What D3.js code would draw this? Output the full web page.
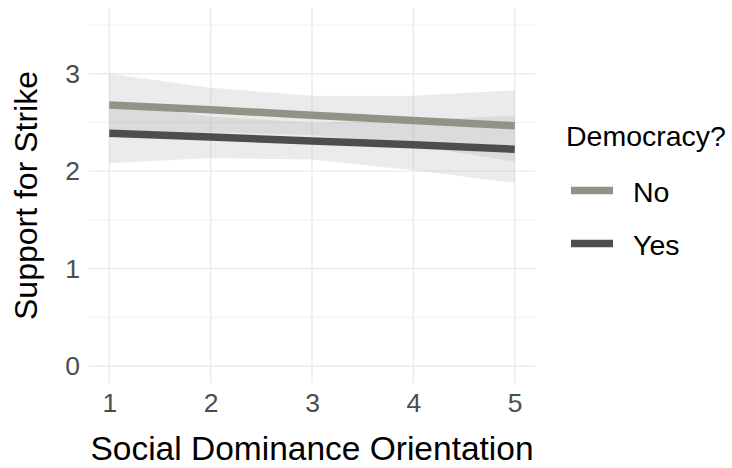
<!DOCTYPE html>
<html>
<head>
<meta charset="utf-8">
<script src="https://cdn.jsdelivr.net/npm/d3@7"></script>
<style>
  body { margin: 0; background: #fff; }
  text { font-family: "Liberation Sans", Arial, sans-serif; }
</style>
</head>
<body>
<svg id="chart" width="732" height="468" viewBox="0 0 732 468"></svg>
<script>
// predicted support at each SDO value
const sdo = [1, 2, 3, 4, 5];
const groups = ["No", "Yes"];
const fitNo = [2.68, 2.63, 2.575, 2.52, 2.465];
const lowNo = [2.36, 2.40, 2.37, 2.26, 2.10];
const highNo = [3.00, 2.855, 2.775, 2.775, 2.83];
const fitYes = [2.39, 2.35, 2.31, 2.27, 2.225];
const lowYes = [2.08, 2.135, 2.12, 2.01, 1.88];
const highYes = [2.70, 2.56, 2.50, 2.52, 2.57];
const xTicks = [1, 2, 3, 4, 5];
const yTicks = [0, 1, 2, 3];
const yMinor = [0.5, 1.5, 2.5, 3.5];

const series = [
    { name: "No", fit: fitNo, low: lowNo, high: highNo, color: "#8f9485" },
    { name: "Yes", fit: fitYes, low: lowYes, high: highYes, color: "#4d4d4d" }
];

const svg = d3.select("#chart");
const panel = { left: 89, right: 535, top: 8, bottom: 383 };

const x = d3.scaleLinear()
    .domain([0.8, 5.2])
    .range([panel.left, panel.right]);
const y = d3.scaleLinear()
    .domain([-0.175, 3.675])
    .range([panel.bottom, panel.top]);

const grid = svg.append("g");

// minor grid first, then major
grid.selectAll(".minor-y")
    .data(yMinor)
    .enter()
    .append("line")
    .attr("x1", panel.left)
    .attr("x2", panel.right)
    .attr("y1", d => y(d))
    .attr("y2", d => y(d))
    .style("stroke", "#f2f2f2")
    .style("stroke-width", 1);

grid.selectAll(".major-y")
    .data(yTicks)
    .enter()
    .append("line")
    .attr("x1", panel.left)
    .attr("x2", panel.right)
    .attr("y1", d => y(d))
    .attr("y2", d => y(d))
    .style("stroke", "#ebebeb")
    .style("stroke-width", 1.4);

grid.selectAll(".major-x")
    .data(xTicks)
    .enter()
    .append("line")
    .attr("x1", d => x(d))
    .attr("x2", d => x(d))
    .attr("y1", panel.top)
    .attr("y2", panel.bottom)
    .style("stroke", "#ebebeb")
    .style("stroke-width", 1.4);

// confidence ribbons
const area = d3.area()
    .x((d, i) => x(sdo[i]))
    .y0(d => y(d[0]))
    .y1(d => y(d[1]));

svg.append("g")
    .selectAll("path")
    .data(series)
    .enter()
    .append("path")
    .attr("d", s => area(s.low.map((v, i) => [v, s.high[i]])))
    .style("fill", "#999999")
    .style("fill-opacity", 0.2);

// fitted lines
const line = d3.line()
    .x((d, i) => x(sdo[i]))
    .y(d => y(d));

svg.append("g")
    .selectAll("path")
    .data(series)
    .enter()
    .append("path")
    .attr("d", s => line(s.fit))
    .style("fill", "none")
    .style("stroke", s => s.color)
    .style("stroke-width", 7.5);

// axes
const xAxis = svg.append("g")
    .attr("transform", `translate(0, ${panel.bottom})`)
    .call(d3.axisBottom(x).tickValues(xTicks).tickSize(0).tickPadding(10).tickFormat(d3.format("d")));
xAxis.select(".domain").remove();
xAxis.selectAll("text")
    .style("font-size", "26.5px")
    .style("fill", "#4d4d4d");

const yAxis = svg.append("g")
    .attr("transform", `translate(${panel.left}, 0)`)
    .call(d3.axisLeft(y).tickValues(yTicks).tickSize(0).tickPadding(9).tickFormat(d3.format("d")));
yAxis.select(".domain").remove();
yAxis.selectAll("text")
    .style("font-size", "26.5px")
    .style("fill", "#4d4d4d");

svg.append("text")
    .attr("x", (panel.left + panel.right) / 2)
    .attr("y", 460)
    .attr("text-anchor", "middle")
    .style("font-size", "33.5px")
    .style("fill", "#000")
    .text("Social Dominance Orientation");

svg.append("text")
    .attr("transform", `translate(37, ${(panel.top + panel.bottom) / 2}) rotate(-90)`)
    .attr("text-anchor", "middle")
    .style("font-size", "32px")
    .style("fill", "#000")
    .text("Support for Strike");

// legend
const legend = svg.append("g")
    .attr("transform", "translate(566, 146)");

legend.append("text")
    .attr("x", 0)
    .attr("y", 0)
    .style("font-size", "28.5px")
    .style("fill", "#000")
    .text("Democracy?");

series.forEach((s, i) => {
    const item = legend.append("g")
        .attr("transform", `translate(0, ${44.5 + i * 53})`);

    item.append("line")
        .attr("x1", 5)
        .attr("x2", 47)
        .attr("y1", 0)
        .attr("y2", 0)
        .style("stroke", s.color)
        .style("stroke-width", 7.5);

    item.append("text")
        .attr("x", 67)
        .attr("y", 11)
        .style("font-size", "28.5px")
        .style("fill", "#000")
        .text(s.name);
});
</script>
</body>
</html>
